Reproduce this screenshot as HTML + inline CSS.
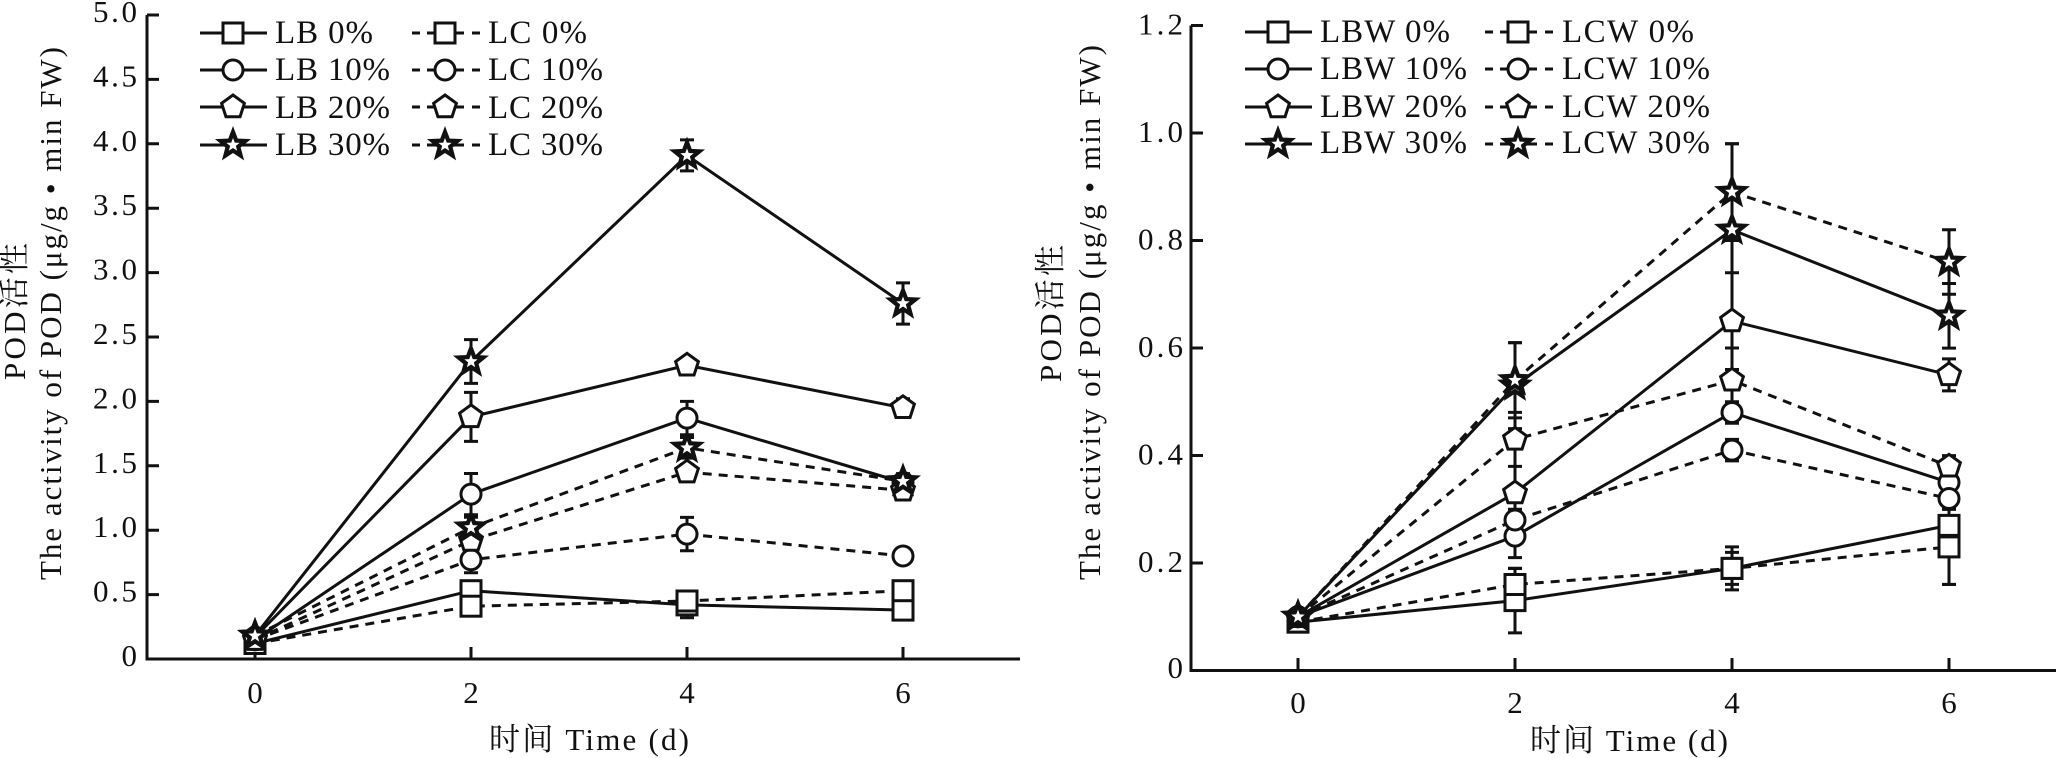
<!DOCTYPE html>
<html><head><meta charset="utf-8"><style>
html,body{margin:0;padding:0;background:#fff;}
svg{display:block;}
text{font-family:"Liberation Serif","Noto Serif CJK SC",serif;fill:#111;}
</style></head><body>
<svg width="2056" height="758" viewBox="0 0 2056 758" xmlns="http://www.w3.org/2000/svg">
<defs>
<rect id="sq" x="-10" y="-10" width="20" height="20" fill="#fff" stroke="#111" stroke-width="3"/>
<circle id="ci" r="10" fill="#fff" stroke="#111" stroke-width="3"/>
<polygon id="pe" points="0,-12 11.4,-3.7 7.05,9.7 -7.05,9.7 -11.4,-3.7" fill="#fff" stroke="#111" stroke-width="3" stroke-linejoin="miter"/>
<polygon id="st" points="0,-13 3.23,-4.45 12.36,-4.02 5.23,1.7 7.64,10.52 0,5.5 -7.64,10.52 -5.23,1.7 -12.36,-4.02 -3.23,-4.45" fill="#fff" stroke="#111" stroke-width="4.2" stroke-linejoin="miter"/>
</defs>
<rect width="2056" height="758" fill="#fff"/>

<!-- ================= LEFT CHART ================= -->
<g stroke="#111" stroke-width="3" fill="none">
<path d="M147 15 V659 H1020"/>
<path d="M147 79.4 H159 M147 143.8 H159 M147 208.2 H159 M147 272.6 H159 M147 337 H159 M147 401.4 H159 M147 465.8 H159 M147 530.2 H159 M147 594.6 H159 M147 15 H159"/>
<path d="M255 659 V647 M471 659 V647 M687 659 V647 M903 659 V647"/>
</g>
<g font-size="31" text-anchor="end">
<text x="137" y="22" textLength="44">5.0</text>
<text x="137" y="86.4" textLength="44">4.5</text>
<text x="137" y="150.8" textLength="44">4.0</text>
<text x="137" y="215.2" textLength="44">3.5</text>
<text x="137" y="279.6" textLength="44">3.0</text>
<text x="137" y="344" textLength="44">2.5</text>
<text x="137" y="408.4" textLength="44">2.0</text>
<text x="137" y="472.8" textLength="44">1.5</text>
<text x="137" y="537.2" textLength="44">1.0</text>
<text x="137" y="601.6" textLength="44">0.5</text>
<text x="137" y="666">0</text>
</g>
<g font-size="31" text-anchor="middle">
<text x="255" y="703">0</text>
<text x="471" y="703">2</text>
<text x="687" y="703">4</text>
<text x="903" y="703">6</text>
</g>
<text x="489" y="750" font-size="31" textLength="200" lengthAdjust="spacing">时间 Time (d)</text>
<text transform="translate(25,380) rotate(-90)" font-size="31" textLength="137" lengthAdjust="spacing">POD活性</text>
<text transform="translate(61,580) rotate(-90)" font-size="31" textLength="533" lengthAdjust="spacing">The activity of POD (μg/g • min FW)</text>

<!-- left lines -->
<g stroke="#111" stroke-width="3" fill="none">
<polyline points="255,643.5 471,590.7 687,604.9 903,610.1"/>
<polyline points="255,639.7 471,494.1 687,418.1 903,482.5"/>
<polyline points="255,637.1 471,416.9 687,365.3 903,407.8"/>
<polyline points="255,635.8 471,361.5 687,155.4 903,303.5"/>
</g>
<g stroke="#111" stroke-width="3" fill="none" stroke-dasharray="9,7">
<polyline points="255,643.5 471,606.2 687,601 903,590.7"/>
<polyline points="255,639.7 471,559.8 687,534.1 903,556"/>
<polyline points="255,639.7 471,540.5 687,472.2 903,490.3"/>
<polyline points="255,635.8 471,527.6 687,447.8 903,481.3"/>
</g>
<!-- left error bars -->
<g stroke="#111" stroke-width="3" fill="none">
<path d="M471 584.3V597.1M464 584.3H478M464 597.1H478 M687 592V617.8M680 592H694M680 617.8H694 M903 606.2V614M896 606.2H910M896 614H910"/>
<path d="M471 601.2V611.2M464 601.2H478M464 611.2H478 M687 591V611M680 591H694M680 611H694 M903 585.7V595.7M896 585.7H910M896 595.7H910"/>
<path d="M471 473.5V514.7M464 473.5H478M464 514.7H478 M687 401.4V434.8M680 401.4H694M680 434.8H694 M903 476.5V488.5M896 476.5H910M896 488.5H910"/>
<path d="M471 546.9V572.7M464 546.9H478M464 572.7H478 M687 517.4V550.8M680 517.4H694M680 550.8H694 M903 551V561M896 551H910M896 561H910"/>
<path d="M471 392.4V441.4M464 392.4H478M464 441.4H478 M687 361.3V369.3M680 361.3H694M680 369.3H694 M903 398.8V416.8M896 398.8H910M896 416.8H910"/>
<path d="M471 534.1V546.9M464 534.1H478M464 546.9H478 M687 464.5V479.9M680 464.5H694M680 479.9H694 M903 483.9V496.7M896 483.9H910M896 496.7H910"/>
<path d="M471 339.6V383.4M464 339.6H478M464 383.4H478 M687 139.9V170.9M680 139.9H694M680 170.9H694 M903 282.9V324.1M896 282.9H910M896 324.1H910"/>
<path d="M471 517.3V537.9M464 517.3H478M464 537.9H478 M687 437.5V458.1M680 437.5H694M680 458.1H694 M903 473.6V489M896 473.6H910M896 489H910"/>
<path d="M255 630V650M248 630H262M248 650H262"/>
</g>
<!-- left markers -->
<use href="#sq" x="255" y="643.5"/><use href="#sq" x="471" y="590.7"/><use href="#sq" x="687" y="604.9"/><use href="#sq" x="903" y="610.1"/>
<use href="#sq" x="255" y="643.5"/><use href="#sq" x="471" y="606.2"/><use href="#sq" x="687" y="601"/><use href="#sq" x="903" y="590.7"/>
<use href="#ci" x="255" y="639.7"/><use href="#ci" x="471" y="494.1"/><use href="#ci" x="687" y="418.1"/><use href="#ci" x="903" y="482.5"/>
<use href="#ci" x="255" y="639.7"/><use href="#ci" x="471" y="559.8"/><use href="#ci" x="687" y="534.1"/><use href="#ci" x="903" y="556"/>
<use href="#pe" x="255" y="637.1"/><use href="#pe" x="471" y="416.9"/><use href="#pe" x="687" y="365.3"/><use href="#pe" x="903" y="407.8"/>
<use href="#pe" x="255" y="639.7"/><use href="#pe" x="471" y="540.5"/><use href="#pe" x="687" y="472.2"/><use href="#pe" x="903" y="490.3"/>
<use href="#st" x="255" y="635.8"/><use href="#st" x="471" y="361.5"/><use href="#st" x="687" y="155.4"/><use href="#st" x="903" y="303.5"/>
<use href="#st" x="255" y="635.8"/><use href="#st" x="471" y="527.6"/><use href="#st" x="687" y="447.8"/><use href="#st" x="903" y="481.3"/>

<!-- left legend -->
<g stroke="#111" stroke-width="3" fill="none">
<path d="M200 33H267 M200 70H267 M200 107H267 M200 145H267"/>
<path d="M412 33H420M427 33H437M453 33H464M472 33H480 M412 70H420M427 70H437M453 70H464M472 70H480 M412 107H420M427 107H437M453 107H464M472 107H480 M412 145H420M427 145H437M453 145H464M472 145H480"/>
</g>
<use href="#sq" x="233" y="33"/><use href="#ci" x="233" y="70"/><use href="#pe" x="233" y="107"/><use href="#st" x="233" y="145"/>
<use href="#sq" x="445" y="33"/><use href="#ci" x="445" y="70"/><use href="#pe" x="445" y="107"/><use href="#st" x="445" y="145"/>
<g font-size="33" lengthAdjust="spacing">
<text x="275" y="43" textLength="98">LB 0%</text>
<text x="275" y="80" textLength="115">LB 10%</text>
<text x="275" y="118" textLength="115">LB 20%</text>
<text x="275" y="155" textLength="115">LB 30%</text>
<text x="488" y="43" textLength="99">LC 0%</text>
<text x="488" y="80" textLength="115">LC 10%</text>
<text x="488" y="118" textLength="115">LC 20%</text>
<text x="488" y="155" textLength="115">LC 30%</text>
</g>

<!-- ================= RIGHT CHART ================= -->
<g stroke="#111" stroke-width="3" fill="none">
<path d="M1191 25.5 V670.5 H2056"/>
<path d="M1191 25.5H1203 M1191 133H1203 M1191 240.5H1203 M1191 348H1203 M1191 455.5H1203 M1191 563H1203"/>
<path d="M1298 670.5V658 M1515 670.5V658 M1732 670.5V658 M1949 670.5V658"/>
</g>
<g font-size="31" text-anchor="end">
<text x="1183" y="34.5" textLength="45">1.2</text>
<text x="1183" y="142" textLength="45">1.0</text>
<text x="1183" y="249.5" textLength="45">0.8</text>
<text x="1183" y="357" textLength="45">0.6</text>
<text x="1183" y="464.5" textLength="45">0.4</text>
<text x="1183" y="572" textLength="45">0.2</text>
<text x="1183" y="678">0</text>
</g>
<g font-size="31" text-anchor="middle">
<text x="1298" y="713">0</text>
<text x="1515" y="713">2</text>
<text x="1732" y="713">4</text>
<text x="1949" y="713">6</text>
</g>
<text x="1530" y="751" font-size="31" textLength="198" lengthAdjust="spacing">时间 Time (d)</text>
<text transform="translate(1061,382) rotate(-90)" font-size="31" textLength="137" lengthAdjust="spacing">POD活性</text>
<text transform="translate(1100,580) rotate(-90)" font-size="31" textLength="535" lengthAdjust="spacing">The activity of POD (μg/g • min FW)</text>

<!-- right lines -->
<g stroke="#111" stroke-width="3" fill="none">
<polyline points="1298,622.1 1515,600.6 1732,568.4 1949,525.4"/>
<polyline points="1298,616.8 1515,536.1 1732,412.5 1949,482.4"/>
<polyline points="1298,616.8 1515,493.1 1732,321.1 1949,374.9"/>
<polyline points="1298,616.8 1515,385.6 1732,229.8 1949,315.8"/>
</g>
<g stroke="#111" stroke-width="3" fill="none" stroke-dasharray="9,7">
<polyline points="1298,622.1 1515,584.5 1732,568.4 1949,546.9"/>
<polyline points="1298,616.8 1515,520 1732,450.1 1949,498.5"/>
<polyline points="1298,616.8 1515,439.4 1732,380.3 1949,466.3"/>
<polyline points="1298,616.8 1515,380.3 1732,192.1 1949,262"/>
</g>
<!-- right error bars -->
<g stroke="#111" stroke-width="3" fill="none">
<path d="M1515 568.3V632.9M1508 568.3H1522M1508 632.9H1522 M1732 546.9V589.9M1725 546.9H1739M1725 589.9H1739 M1949 466.4V584.4M1942 466.4H1956M1942 584.4H1956"/>
<path d="M1515 568.5V600.5M1508 568.5H1522M1508 600.5H1522 M1732 552.4V584.4M1725 552.4H1739M1725 584.4H1739 M1949 509.3V584.5M1942 509.3H1956M1942 584.5H1956"/>
<path d="M1515 514.6V557.6M1508 514.6H1522M1508 557.6H1522 M1732 401.75V423.25M1725 401.75H1739M1725 423.25H1739 M1949 471.6V493.2M1942 471.6H1956M1942 493.2H1956"/>
<path d="M1515 509.3V530.8M1508 509.3H1522M1508 530.8H1522 M1732 439.4V460.9M1725 439.4H1739M1725 460.9H1739 M1949 487.8V509.3M1942 487.8H1956M1942 509.3H1956"/>
<path d="M1515 444.7V541.5M1508 444.7H1522M1508 541.5H1522 M1732 272.7V369.5M1725 272.7H1739M1725 369.5H1739 M1949 358.9V390.9M1942 358.9H1956M1942 390.9H1956"/>
<path d="M1515 412.4V466.4M1508 412.4H1522M1508 466.4H1522 M1732 348V412.6M1725 348H1739M1725 412.6H1739 M1949 455.6V477.1M1942 455.6H1956M1942 477.1H1956"/>
<path d="M1515 342.6V428.6M1508 342.6H1522M1508 428.6H1522 M1732 143.8V315.8M1725 143.8H1739M1725 315.8H1739 M1949 283.5V348.1M1942 283.5H1956M1942 348.1H1956"/>
<path d="M1515 342.7V417.9M1508 342.7H1522M1508 417.9H1522 M1732 143.7V240.5M1725 143.7H1739M1725 240.5H1739 M1949 229.7V294.3M1942 229.7H1956M1942 294.3H1956"/>
</g>
<!-- right markers -->
<use href="#sq" x="1298" y="622.1"/><use href="#sq" x="1515" y="600.6"/><use href="#sq" x="1732" y="568.4"/><use href="#sq" x="1949" y="525.4"/>
<use href="#sq" x="1298" y="622.1"/><use href="#sq" x="1515" y="584.5"/><use href="#sq" x="1732" y="568.4"/><use href="#sq" x="1949" y="546.9"/>
<use href="#ci" x="1298" y="616.8"/><use href="#ci" x="1515" y="536.1"/><use href="#ci" x="1732" y="412.5"/><use href="#ci" x="1949" y="482.4"/>
<use href="#ci" x="1298" y="616.8"/><use href="#ci" x="1515" y="520"/><use href="#ci" x="1732" y="450.1"/><use href="#ci" x="1949" y="498.5"/>
<use href="#pe" x="1298" y="616.8"/><use href="#pe" x="1515" y="493.1"/><use href="#pe" x="1732" y="321.1"/><use href="#pe" x="1949" y="374.9"/>
<use href="#pe" x="1298" y="616.8"/><use href="#pe" x="1515" y="439.4"/><use href="#pe" x="1732" y="380.3"/><use href="#pe" x="1949" y="466.3"/>
<use href="#st" x="1298" y="616.8"/><use href="#st" x="1515" y="385.6"/><use href="#st" x="1732" y="229.8"/><use href="#st" x="1949" y="315.8"/>
<use href="#st" x="1298" y="616.8"/><use href="#st" x="1515" y="380.3"/><use href="#st" x="1732" y="192.1"/><use href="#st" x="1949" y="262"/>

<!-- right legend -->
<g stroke="#111" stroke-width="3" fill="none">
<path d="M1245 32H1312 M1245 69H1312 M1245 107H1312 M1245 144H1312"/>
<path d="M1485 32H1493M1500 32H1510M1526 32H1537M1545 32H1553 M1485 69H1493M1500 69H1510M1526 69H1537M1545 69H1553 M1485 107H1493M1500 107H1510M1526 107H1537M1545 107H1553 M1485 144H1493M1500 144H1510M1526 144H1537M1545 144H1553"/>
</g>
<use href="#sq" x="1278" y="32"/><use href="#ci" x="1278" y="69"/><use href="#pe" x="1278" y="107"/><use href="#st" x="1278" y="144"/>
<use href="#sq" x="1518" y="32"/><use href="#ci" x="1518" y="69"/><use href="#pe" x="1518" y="107"/><use href="#st" x="1518" y="144"/>
<g font-size="33" lengthAdjust="spacing">
<text x="1320" y="42" textLength="130">LBW 0%</text>
<text x="1320" y="79" textLength="147">LBW 10%</text>
<text x="1320" y="117" textLength="147">LBW 20%</text>
<text x="1320" y="153" textLength="147">LBW 30%</text>
<text x="1562" y="42" textLength="132">LCW 0%</text>
<text x="1562" y="79" textLength="148">LCW 10%</text>
<text x="1562" y="117" textLength="148">LCW 20%</text>
<text x="1562" y="153" textLength="148">LCW 30%</text>
</g>
</svg>
</body></html>
